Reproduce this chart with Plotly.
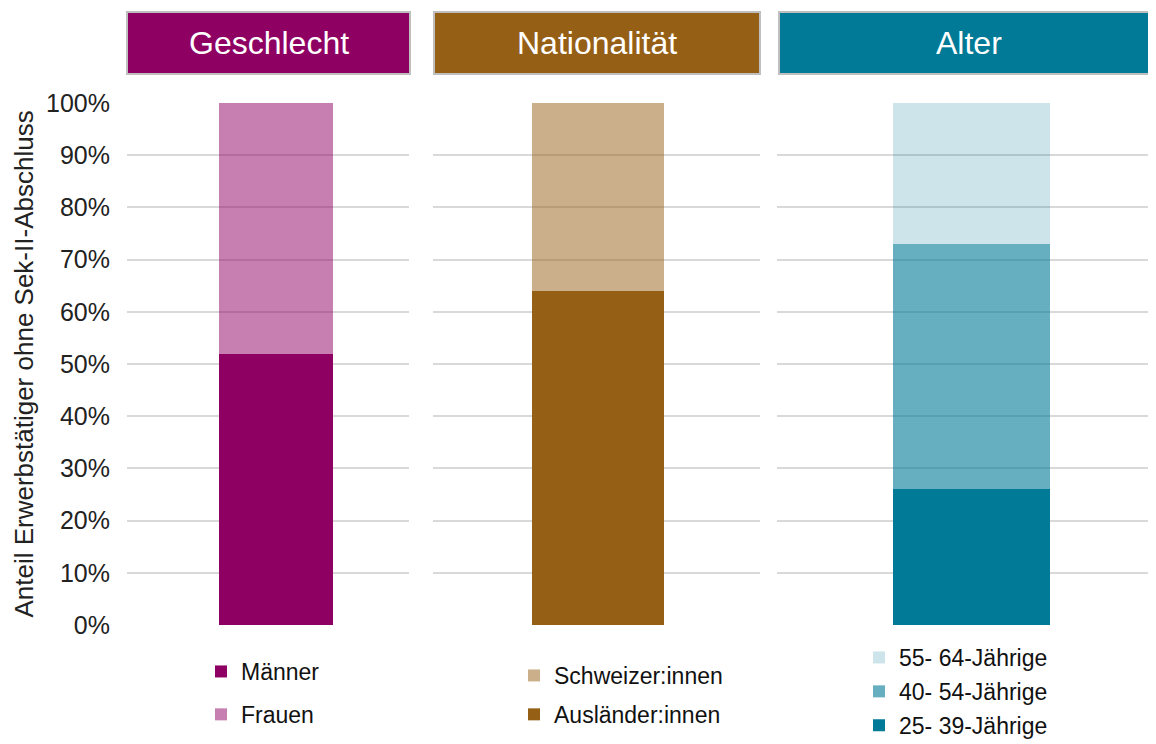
import plotly.graph_objects as go

# data (shares in %)
geschlecht_labels = ["Männer", "Frauen"]
geschlecht_values = [52, 48]

nationalitaet_labels = ["Ausländer:innen", "Schweizer:innen"]
nationalitaet_values = [64, 36]

alter_labels = ["25- 39-Jährige", "40- 54-Jährige", "55- 64-Jährige"]
alter_values = [26, 47, 27]

panel_titles = ["Geschlecht", "Nationalität", "Alter"]
y_ticks = [0, 10, 20, 30, 40, 50, 60, 70, 80, 90, 100]
y_tick_labels = ["0%", "10%", "20%", "30%", "40%", "50%", "60%", "70%", "80%", "90%", "100%"]

# the page body has an 8px margin, so the figure is a bit smaller than the window
OFF = 8
W, H = 1156 - OFF, 744 - OFF
FONT = "Liberation Sans, Arial, sans-serif"

purple = "#8F0063"
brown = "#965F16"
teal = "#007A96"

geschlecht_colors = [purple, "rgba(143,0,99,0.5)"]
nationalitaet_colors = [brown, "rgba(150,95,22,0.5)"]
alter_colors = [teal, "rgba(0,122,150,0.6)", "rgba(0,122,150,0.2)"]


def px(x):
    # window pixel -> paper fraction
    return (x - OFF) / W


def py(y):
    return 1 - (y - OFF) / H


fig = go.Figure()

# (labels, values, colors, x axis, y axis, legend, listed top-down?)
groups = [
    (geschlecht_labels, geschlecht_values, geschlecht_colors, "x", "y", "legend", False),
    (nationalitaet_labels, nationalitaet_values, nationalitaet_colors, "x2", "y2", "legend2", True),
    (alter_labels, alter_values, alter_colors, "x3", "y3", "legend3", True),
]

for labels, values, colors, xa, ya, lg, rev in groups:
    n = len(labels)
    for i, (lab, val, col) in enumerate(zip(labels, values, colors)):
        rank = (n - i) if rev else (i + 1)
        fig.add_trace(go.Bar(
            x=[0], y=[val], name=lab, width=1,
            marker=dict(color=col, line=dict(width=0)),
            xaxis=xa, yaxis=ya, legend=lg, legendgroup=lab,
            legendrank=rank,
            hovertemplate=lab + ": %{y}%<extra></extra>",
        ))

y_dom = [py(625), py(103)]
grid = dict(showgrid=True, gridcolor="#D9D9D9", gridwidth=2,
            zeroline=False, range=[0, 100], tickmode="array",
            tickvals=y_ticks, domain=y_dom, automargin=False)

leg_font = dict(size=23, color="#111111", family=FONT)

fig.update_layout(
    width=W, height=H,
    margin=dict(l=0, r=0, t=0, b=0, autoexpand=False),
    paper_bgcolor="white", plot_bgcolor="white",
    barmode="stack",
    font=dict(family=FONT, color="#222222"),
    xaxis=dict(domain=[px(127), px(409)], range=[-1.307, 1.167], visible=False),
    xaxis2=dict(domain=[px(433), px(760)], range=[-1.25, 1.227], visible=False),
    xaxis3=dict(domain=[px(777), px(1156)], range=[-1.239, 1.175], visible=False),
    yaxis=dict(**grid, anchor="x", ticktext=y_tick_labels, ticks="",
               tickfont=dict(size=25), ticklabelstandoff=16,
               title=dict(text="Anteil Erwerbstätiger ohne Sek-II-Abschluss",
                          font=dict(size=26), standoff=4)),
    yaxis2=dict(**grid, anchor="x2", showticklabels=False),
    yaxis3=dict(**grid, anchor="x3", showticklabels=False),
    legend=dict(x=px(201), y=py(650), xanchor="left", yanchor="top",
                traceorder="grouped", tracegroupgap=10,
                font=leg_font, bgcolor="rgba(0,0,0,0)"),
    legend2=dict(x=px(514), y=py(654), xanchor="left", yanchor="top",
                 traceorder="grouped", tracegroupgap=6,
                 font=leg_font, bgcolor="rgba(0,0,0,0)"),
    legend3=dict(x=px(859), y=py(636), xanchor="left", yanchor="top",
                 traceorder="grouped", tracegroupgap=1,
                 font=leg_font, bgcolor="rgba(0,0,0,0)"),
    showlegend=True,
)

# panel header boxes
header_boxes = [(127, 410, purple), (434, 760, brown), (779, 1170, teal)]
for (x0, x1, col), title in zip(header_boxes, panel_titles):
    fig.add_shape(type="rect", xref="paper", yref="paper",
                  x0=px(x0), x1=px(x1), y0=py(74), y1=py(12),
                  fillcolor=col, line=dict(color="#BFBFBF", width=2))
    xc = (x0 + min(x1, 1158)) / 2
    fig.add_annotation(x=px(xc), y=py(43), xref="paper", yref="paper",
                       xanchor="center", yanchor="middle",
                       text=title, showarrow=False,
                       font=dict(size=32, color="white", family=FONT))

fig.write_html("out.html")
